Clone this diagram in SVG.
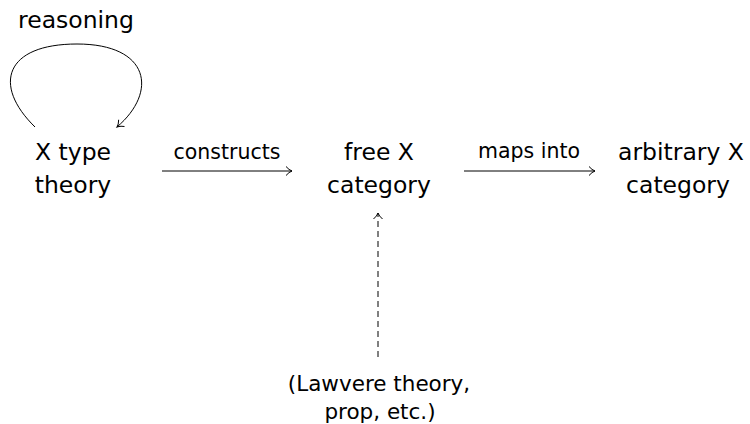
<svg xmlns="http://www.w3.org/2000/svg" width="750" height="424" viewBox="0 0 750 424">
<style>
.t{font-family:"DejaVu Sans","Liberation Sans",sans-serif;font-size:23.5px;fill:#000;text-anchor:middle}
.b{font-family:"DejaVu Sans","Liberation Sans",sans-serif;font-size:21.5px;fill:#000;text-anchor:middle}
.l{font-family:"DejaVu Sans","Liberation Sans",sans-serif;font-size:20.5px;fill:#000;text-anchor:middle}
.c{fill:none;stroke:#000;stroke-width:1}
</style>
<defs>
<marker id="ah" markerWidth="12" markerHeight="12" refX="8" refY="6" orient="auto" markerUnits="userSpaceOnUse">
<path d="M2,1.5 Q5,5 8,6 Q5,7 2,10.5" fill="none" stroke="#000" stroke-width="1"/>
</marker>
</defs>
<rect width="750" height="424" fill="#fff"/>
<g id="connectors">
<path class="c" d="M35,127 C -8,85 5,44 77,44 C 150,44 158,92 117,127" marker-end="url(#ah)"/>
<line class="c" x1="162" y1="171" x2="292" y2="171" marker-end="url(#ah)"/>
<line class="c" x1="464" y1="171" x2="595" y2="171" marker-end="url(#ah)"/>
<line class="c" x1="378" y1="357" x2="378" y2="213" stroke-dasharray="6,4" marker-end="url(#ah)"/>
<text class="l" x="227" y="159">constructs</text>
<text class="l" x="529" y="158">maps into</text>
<text class="t" x="76" y="28">reasoning</text>
</g>
<g id="type-theory">
<text class="t" x="73" y="160">X type</text>
<text class="t" x="73" y="193">theory</text>
</g>
<g id="free-category">
<text class="t" x="379" y="160">free X</text>
<text class="t" x="379" y="193">category</text>
</g>
<g id="arbitrary-category">
<text class="t" x="681" y="160">arbitrary X</text>
<text class="t" x="678" y="193">category</text>
</g>
<g id="lawvere">
<text class="b" x="379" y="391">(Lawvere theory,</text>
<text class="b" x="380" y="419">prop, etc.)</text>
</g>
</svg>
